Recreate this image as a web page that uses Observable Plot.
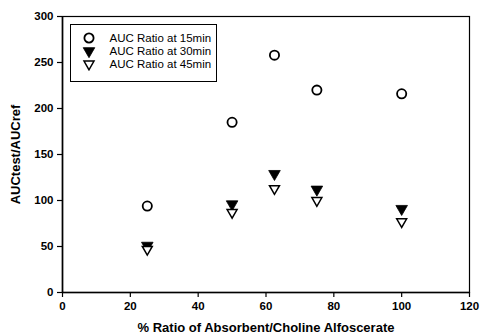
<!DOCTYPE html>
<html>
<head>
<meta charset="utf-8">
<script src="https://cdn.jsdelivr.net/npm/d3@7"></script>
<script src="https://cdn.jsdelivr.net/npm/@observablehq/plot@0.6"></script>
<style>
  body { margin: 0; background: #fff; }
  #wrap { position: relative; width: 480px; height: 336px; font-family: "Liberation Sans", Arial, sans-serif; }
  #legend { position: absolute; left: 70px; top: 23.5px; width: 145px; height: 56px; border: 1.3px solid #000; background: #fff; box-sizing: content-box; }
  .row { position: absolute; left: 0; height: 14px; display: flex; align-items: center; font-size: 11.5px; color: #000; }
  .row svg { margin-left: 11px; margin-right: 13.5px; }
</style>
</head>
<body>
<div id="wrap"></div>
<script>
const ratio = [25, 50, 62.5, 75, 100];
const auc15 = [94, 185, 258, 220, 216];
const auc30 = [51, 96, 129, 112, 91];
const auc45 = [47, 87, 113, 100, 77];
const seriesNames = ["AUC Ratio at 15min", "AUC Ratio at 30min", "AUC Ratio at 45min"];
const xTicks = [0, 20, 40, 60, 80, 100, 120];
const yTicks = [0, 50, 100, 150, 200, 250, 300];
const xTitle = "% Ratio of Absorbent/Choline Alfoscerate";
const yTitle = "AUCtest/AUCref";

const d15 = ratio.map((x, i) => ({x, y: auc15[i]}));
const d30 = ratio.map((x, i) => ({x, y: auc30[i]}));
const d45 = ratio.map((x, i) => ({x, y: auc45[i]}));

const font = "Liberation Sans, Arial, sans-serif";

const chart = Plot.plot({
  width: 480,
  height: 336,
  marginLeft: 62,
  marginRight: 11,
  marginTop: 16,
  marginBottom: 44,
  style: {fontFamily: font, background: "#fff", color: "#000"},
  x: {domain: [0, 120]},
  y: {domain: [0, 300]},
  marks: [
    Plot.frame({stroke: "#000", strokeWidth: 1.2}),
    Plot.ruleX([0], {stroke: "#000", strokeWidth: 1.6}),
    Plot.ruleY([0], {stroke: "#000", strokeWidth: 1.6}),
    Plot.axisX({ticks: xTicks, tickSize: 5, tickPadding: 4, fontSize: 11.5, fontWeight: "bold", label: null, stroke: "#000", strokeWidth: 1.2}),
    Plot.axisY({ticks: yTicks, tickSize: 5, tickPadding: 4, fontSize: 11.5, fontWeight: "bold", label: null, stroke: "#000", strokeWidth: 1.2}),
    Plot.text([xTitle], {frameAnchor: "bottom", dy: 35, lineAnchor: "middle", fontSize: 13, fontWeight: "bold", fill: "#000"}),
    Plot.text([yTitle], {frameAnchor: "left", dx: -47, rotate: -90, textAnchor: "middle", lineAnchor: "middle", fontSize: 13, fontWeight: "bold", fill: "#000"}),
    Plot.dot(d15, {x: "x", y: "y", r: 4.6, symbol: "circle", fill: "none", stroke: "#000", strokeWidth: 1.8}),
    Plot.dot(d30, {x: "x", y: "y", r: 4.3, symbol: "triangle", rotate: 180, fill: "#000", stroke: "#000", strokeWidth: 0.8}),
    Plot.dot(d45, {x: "x", y: "y", r: 3.7, symbol: "triangle", rotate: 180, fill: "#fff", stroke: "#000", strokeWidth: 1.5})
  ]
});

const wrap = document.getElementById("wrap");
wrap.appendChild(chart);

// Legend
const legend = document.createElement("div");
legend.id = "legend";
const symDefs = [
  {type: d3.symbolCircle, r: 4.6, fill: "none", stroke: "#000", sw: 1.8, rot: 0},
  {type: d3.symbolTriangle, r: 4.3, fill: "#000", stroke: "#000", sw: 0.8, rot: 180},
  {type: d3.symbolTriangle, r: 3.7, fill: "#fff", stroke: "#000", sw: 1.5, rot: 180}
];
seriesNames.forEach((name, i) => {
  const row = document.createElement("div");
  row.className = "row";
  row.style.top = (6 + i * 13) + "px";
  const s = symDefs[i];
  const svg = d3.create("svg").attr("width", 14).attr("height", 14);
  svg.append("path")
    .attr("d", d3.symbol(s.type, Math.PI * s.r * s.r)())
    .attr("transform", `translate(7,7) rotate(${s.rot})`)
    .attr("fill", s.fill).attr("stroke", s.stroke).attr("stroke-width", s.sw);
  row.appendChild(svg.node());
  const span = document.createElement("span");
  span.textContent = name;
  row.appendChild(span);
  legend.appendChild(row);
});
wrap.appendChild(legend);
</script>
</body>
</html>
